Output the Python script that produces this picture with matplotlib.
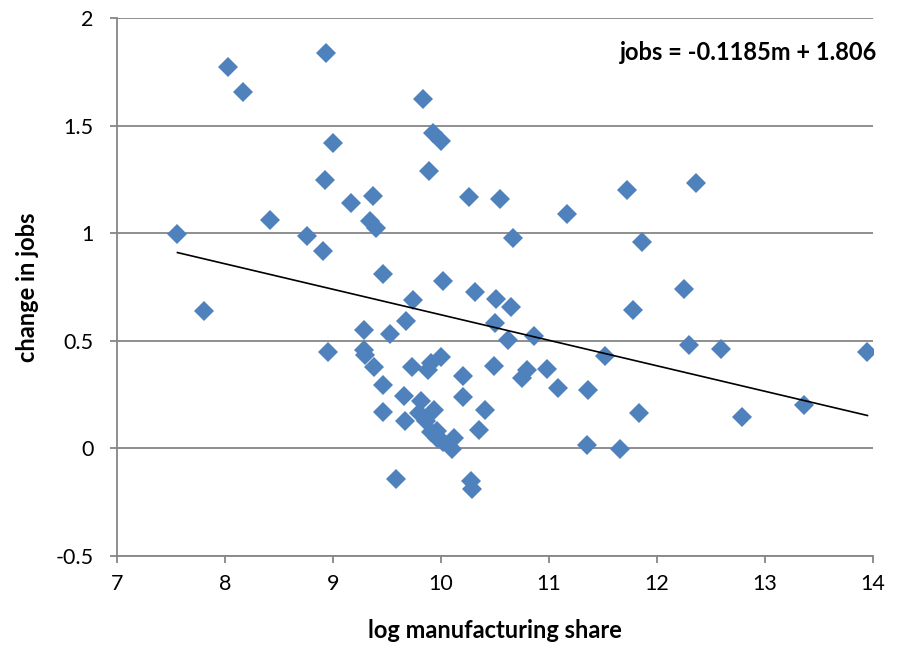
import matplotlib
matplotlib.use("Agg")
import matplotlib.pyplot as plt
import numpy as np

plt.rcParams["font.family"] = ["Lato", "DejaVu Sans"]

# log manufacturing share vs change in jobs
share = [7.56, 7.81, 8.03, 8.17, 8.42, 8.76, 8.94, 8.93, 8.91, 8.95,
         9.00, 9.17, 9.37, 9.34, 9.40, 9.46, 9.29, 9.29, 9.30, 9.38,
         9.46, 9.46, 9.53, 9.58, 9.66, 9.68, 9.67, 9.73, 9.74, 9.80,
         9.82, 9.83, 9.86, 9.89, 9.91, 9.88, 9.93, 9.94, 9.96, 10.00,
         10.00, 10.02, 9.91, 9.96, 10.02, 10.10, 10.12, 10.20, 10.20, 10.26,
         10.28, 10.29, 10.32, 10.35, 10.41, 10.49, 10.50, 10.51, 10.55, 10.62,
         10.65, 10.67, 10.75, 10.80, 10.86, 10.98, 11.08, 11.17, 11.35, 11.36,
         11.52, 11.66, 11.72, 11.78, 11.83, 11.86, 12.25, 12.30, 12.36, 12.59,
         12.79, 13.36, 13.95]
jobs = [0.995, 0.637, 1.772, 1.656, 1.060, 0.986, 1.837, 1.247, 0.916, 0.447,
        1.419, 1.140, 1.172, 1.056, 1.023, 0.810, 0.549, 0.456, 0.433, 0.377,
        0.293, 0.167, 0.530, -0.140, 0.242, 0.590, 0.126, 0.377, 0.688, 0.163,
        0.219, 1.623, 0.126, 1.288, 0.395, 0.363, 1.465, 0.177, 0.080, 1.430,
        0.423, 0.780, 0.074, 0.050, 0.028, -0.005, 0.050, 0.335, 0.237, 1.167,
        -0.153, -0.190, 0.726, 0.084, 0.177, 0.381, 0.581, 0.693, 1.158, 0.502,
        0.656, 0.977, 0.326, 0.363, 0.521, 0.367, 0.279, 1.088, 0.014, 0.270,
        0.428, -0.005, 1.200, 0.642, 0.163, 0.958, 0.740, 0.479, 1.233, 0.460,
        0.144, 0.200, 0.447]

slope = -0.1185
intercept = 1.806

fig = plt.figure(figsize=(9.02, 6.45), dpi=100)
ax = fig.add_axes([0.1297, 0.138, 0.838, 0.834])

ax.plot(share, jobs, linestyle="none", marker="D", markersize=10,
        color="#4F81BD", markeredgewidth=0, zorder=3)

xs = np.array([min(share), max(share)])
ax.plot(xs, slope * xs + intercept, color="black", linewidth=1.2, zorder=4)

ax.set_xlim(7, 14)
ax.set_ylim(-0.5, 2)
ax.set_xticks(range(7, 15))
ax.set_yticks([-0.5, 0, 0.5, 1, 1.5, 2])
ax.set_yticklabels(["-0.5", "0", "0.5", "1", "1.5", "2"])
ax.yaxis.grid(True, color="#868686", linewidth=1.3)
ax.set_axisbelow(True)

for side in ["top", "right"]:
    ax.spines[side].set_visible(False)
for side in ["left", "bottom"]:
    ax.spines[side].set_color("#868686")
    ax.spines[side].set_linewidth(1.3)

ax.tick_params(direction="out", length=5, width=1.3, color="#868686",
               labelsize=15.5)
ax.tick_params(axis="y", pad=12)
ax.tick_params(axis="x", pad=8)

ax.set_xlabel("log manufacturing share", fontsize=17, fontweight="bold", labelpad=18)
ax.set_ylabel("change in jobs", fontsize=17, fontweight="bold", labelpad=12)

ax.text(877 / 902, 1 - 52 / 645, "jobs = -0.1185m + 1.806", transform=fig.transFigure,
        ha="right", va="center", fontsize=17, fontweight="bold")

fig.savefig("out.png", dpi=100)
